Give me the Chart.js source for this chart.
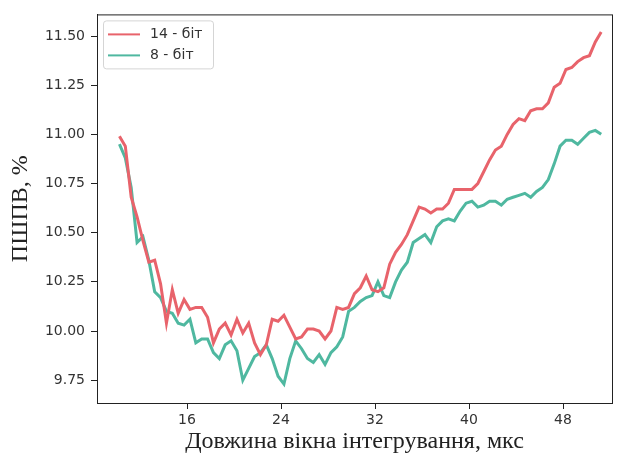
<!DOCTYPE html>
<html>
<head>
<meta charset="utf-8">
<script src="https://cdn.jsdelivr.net/npm/chart.js@4/dist/chart.umd.min.js"></script>
<style>
  html, body { margin: 0; padding: 0; background: #fff; }
  #wrap { width: 620px; height: 462px; }
</style>
</head>
<body>
<div id="wrap"><canvas id="chart" width="620" height="462"></canvas></div>
<script>
// --- dados ---
const windowLen = [
  10.25, 10.75, 11.25, 11.75, 12.25, 12.75, 13.25, 13.75, 14.25, 14.75,
  15.25, 15.75, 16.25, 16.75, 17.25, 17.75, 18.25, 18.75, 19.25, 19.75,
  20.25, 20.75, 21.25, 21.75, 22.25, 22.75, 23.25, 23.75, 24.25, 24.75,
  25.25, 25.75, 26.25, 26.75, 27.25, 27.75, 28.25, 28.75, 29.25, 29.75,
  30.25, 30.75, 31.25, 31.75, 32.25, 32.75, 33.25, 33.75, 34.25, 34.75,
  35.25, 35.75, 36.25, 36.75, 37.25, 37.75, 38.25, 38.75, 39.25, 39.75,
  40.25, 40.75, 41.25, 41.75, 42.25, 42.75, 43.25, 43.75, 44.25, 44.75,
  45.25, 45.75, 46.25, 46.75, 47.25, 47.75, 48.25, 48.75, 49.25, 49.75,
  50.25, 50.75, 51.25
];

const bits14 = [
  10.99, 10.94, 10.68, 10.58, 10.46, 10.35, 10.36, 10.24, 10.04, 10.21,
  10.09, 10.16, 10.11, 10.12, 10.12, 10.07, 9.94, 10.01, 10.04, 9.98,
  10.06, 9.99, 10.04, 9.94, 9.88, 9.93, 10.06, 10.05, 10.08, 10.02,
  9.96, 9.97, 10.01, 10.01, 10.00, 9.96, 10.00, 10.12, 10.11, 10.12,
  10.19, 10.22, 10.28, 10.21, 10.20, 10.22, 10.34, 10.40, 10.44, 10.49,
  10.56, 10.63, 10.62, 10.60, 10.62, 10.62, 10.65, 10.72, 10.72, 10.72,
  10.72, 10.75, 10.81, 10.87, 10.92, 10.94, 11.00, 11.05, 11.08, 11.07,
  11.12, 11.13, 11.13, 11.16, 11.24, 11.26, 11.33, 11.34, 11.37, 11.39,
  11.40, 11.47, 11.52
];

const bits8 = [
  10.95, 10.88, 10.73, 10.45, 10.48, 10.36, 10.20, 10.17, 10.10, 10.09,
  10.04, 10.03, 10.06, 9.94, 9.96, 9.96, 9.89, 9.86, 9.93, 9.95,
  9.90, 9.75, 9.81, 9.87, 9.89, 9.93, 9.86, 9.77, 9.73, 9.86,
  9.95, 9.91, 9.86, 9.84, 9.88, 9.83, 9.89, 9.92, 9.97, 10.10,
  10.12, 10.15, 10.17, 10.18, 10.25, 10.18, 10.17, 10.25, 10.31, 10.35,
  10.45, 10.47, 10.49, 10.45, 10.53, 10.56, 10.57, 10.56, 10.61, 10.65,
  10.66, 10.63, 10.64, 10.66, 10.66, 10.64, 10.67, 10.68, 10.69, 10.70,
  10.68, 10.71, 10.73, 10.77, 10.85, 10.94, 10.97, 10.97, 10.95, 10.98,
  11.01, 11.02, 11.00
];

const xTicks = [16, 24, 32, 40, 48];
const yTicks = [9.75, 10.00, 10.25, 10.50, 10.75, 11.00, 11.25, 11.50];
const seriesNames = ['14 - біт', '8 - біт'];

const colors = {
  red: '#e8636b',
  green: '#4fb8a0',
  axis: '#222',
  text: '#333'
};

// moldura completa (topo e direita, como no matplotlib)
const framePlugin = {
  id: 'frame',
  beforeDraw(chart) {
    const ctx = chart.ctx;
    ctx.save();
    ctx.fillStyle = '#fff';
    ctx.fillRect(0, 0, chart.width, chart.height);
    ctx.restore();
  },
  afterDraw(chart) {
    const { ctx, chartArea: a } = chart;
    ctx.save();
    ctx.strokeStyle = colors.axis;
    ctx.lineWidth = 1;
    ctx.strokeRect(a.left + 0.5, a.top + 0.5, a.right - a.left, a.bottom - a.top);
    ctx.restore();
  }
};

// legenda dentro da área do gráfico, canto superior esquerdo
const insideLegend = {
  id: 'insideLegend',
  afterDatasetsDraw(chart) {
    const { ctx, chartArea: a } = chart;
    const x = a.left + 6, y = a.top + 6, w = 110, h = 48;
    ctx.save();
    ctx.beginPath();
    ctx.roundRect(x + 0.5, y + 0.5, w, h, 3);
    ctx.fillStyle = 'rgba(255,255,255,0.85)';
    ctx.fill();
    ctx.strokeStyle = '#d5d5d5';
    ctx.lineWidth = 1;
    ctx.stroke();
    ctx.font = '14px "DejaVu Sans"';
    ctx.textBaseline = 'middle';
    chart.data.datasets.forEach((ds, i) => {
      const ly = y + 14 + i * 21;
      ctx.strokeStyle = ds.borderColor;
      ctx.lineWidth = 2;
      ctx.beginPath();
      ctx.moveTo(x + 5, ly);
      ctx.lineTo(x + 37, ly);
      ctx.stroke();
      ctx.fillStyle = colors.text;
      ctx.fillText(ds.label, x + 47, ly);
    });
    ctx.restore();
  }
};

const makeSeries = (values) => windowLen.map((x, i) => ({ x, y: values[i] }));

new Chart(document.getElementById('chart'), {
  type: 'line',
  data: {
    datasets: [
      {
        label: seriesNames[0],
        data: makeSeries(bits14),
        borderColor: colors.red,
        borderWidth: 3,
        pointRadius: 0,
        tension: 0,
        fill: false
      },
      {
        label: seriesNames[1],
        data: makeSeries(bits8),
        borderColor: colors.green,
        borderWidth: 3,
        pointRadius: 0,
        tension: 0,
        fill: false
      }
    ]
  },
  options: {
    responsive: false,
    animation: false,
    layout: { padding: { left: 0, top: 11, right: 8, bottom: 0 } },
    plugins: {
      legend: { display: false },
      tooltip: { enabled: false }
    },
    scales: {
      x: {
        type: 'linear',
        min: 8.34,
        max: 52.17,
        afterBuildTicks: (axis) => { axis.ticks = xTicks.map(v => ({ value: v })); },
        afterFit: (axis) => { axis.height = 59; },
        grid: { drawOnChartArea: false, drawTicks: true, tickLength: 6, color: colors.axis },
        border: { color: colors.axis, width: 1 },
        ticks: {
          color: colors.text,
          font: { family: 'DejaVu Sans', size: 14 },
          padding: 3,
          maxRotation: 0,
          callback: (v) => String(v)
        },
        title: {
          display: true,
          text: 'Довжина вікна інтегрування, мкс',
          color: '#222',
          font: { family: 'Liberation Serif', size: 24 },
          padding: { top: 0, bottom: 6 }
        }
      },
      y: {
        min: 9.634,
        max: 11.61,
        afterBuildTicks: (axis) => { axis.ticks = yTicks.map(v => ({ value: v })); },
        afterFit: (axis) => { axis.width = 97; },
        grid: { drawOnChartArea: false, drawTicks: true, tickLength: 6, color: colors.axis },
        border: { color: colors.axis, width: 1 },
        ticks: {
          color: colors.text,
          font: { family: 'DejaVu Sans', size: 14 },
          padding: 6,
          callback: (v) => v.toFixed(2)
        },
        title: {
          display: true,
          text: 'ПШПВ, %',
          color: '#222',
          font: { family: 'Liberation Serif', size: 24 },
          padding: { top: 6, bottom: 0 }
        }
      }
    }
  },
  plugins: [framePlugin, insideLegend]
});
</script>
</body>
</html>
